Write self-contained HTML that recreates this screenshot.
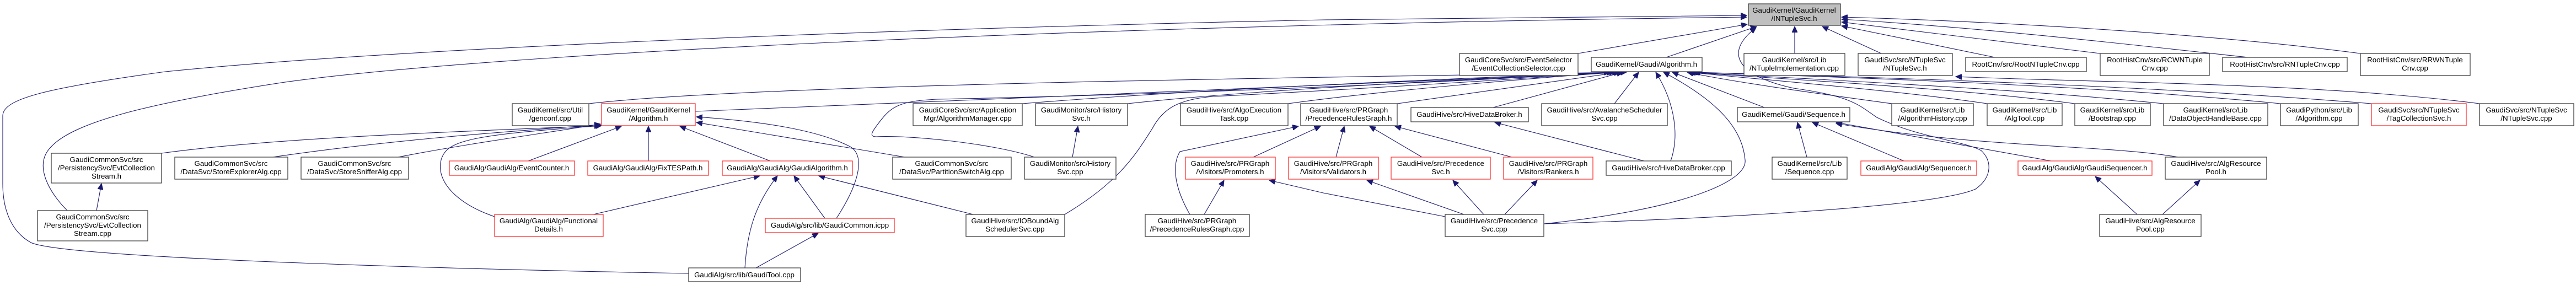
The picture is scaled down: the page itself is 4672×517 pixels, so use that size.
<!DOCTYPE html>
<html><head><meta charset="utf-8"><style>
html,body{margin:0;padding:0;background:#fff;}
svg{display:block;}
text{font-family:"Liberation Sans",Arial,sans-serif;font-size:13.3px;fill:#000;}
.n{fill:#fff;stroke:#404040;stroke-width:1.3;}
.r{fill:#fff;stroke:#ff3333;stroke-width:1.3;}
.g{fill:#bfbfbf;stroke:#404040;stroke-width:1.3;}
.e{fill:none;stroke:#191970;stroke-width:1.1;}
</style></head><body>
<svg width="4672" height="517" viewBox="0 0 4672 517" xmlns="http://www.w3.org/2000/svg">
<defs><marker id="a" markerUnits="userSpaceOnUse" markerWidth="12" markerHeight="10" refX="11" refY="5" orient="auto"><path d="M0,0 L11,5 L0,10 z" fill="#191970" stroke="#191970"/></marker></defs>
<g class="e" marker-end="url(#a)">
<!-- into INTupleSvc -->
<path d="M1249,496 C900,490 120,470 56,440 C20,420 5,380 5,333 L5,210 C5,180 80,160 300,130 C700,90 1500,55 2400,36 L3168,28"/>
<path d="M122,382 C90,350 60,300 92,267 C130,225 250,190 510,150 C900,95 2000,45 3168,31"/>
<path d="M2862,97 L3169,44"/>
<path d="M3022,104 L3186,48"/>
<path d="M3255,97 L3255,48"/>
<path d="M3412,97 L3305,48"/>
<path d="M3618,104 L3340,47"/>
<path d="M3809,97 L3340,40"/>
<path d="M4077,104 C3900,85 3600,50 3340,35"/>
<path d="M4281,97 C4000,60 3600,38 3340,31"/>
<path d="M2800,406 C3000,400 3500,380 3583,343 C3615,320 3612,290 3593,273 C3560,255 3480,250 3404,213 C3370,190 3360,175 3253,160 C3160,140 3120,100 3185,50"/>
<!-- into Gaudi/Algorithm.h -->
<path d="M1261,202 C1800,178 2600,150 2950,131"/>
<path d="M1068,188 C1400,150 2500,140 2940,131"/>
<path d="M1854,188 C2200,160 2700,140 2925,131"/>
<path d="M2045,188 C2300,160 2750,140 2930,131"/>
<path d="M2336,188 C2500,165 2800,140 2935,131"/>
<path d="M2534,188 L2938,131"/>
<path d="M1931,389 C2030,330 2060,280 2090,233 C2110,195 2140,180 2200,175 C2500,160 2800,140 2925,131"/>
<path d="M1876,285 C1800,260 1650,245 1590,248 C1575,248 1580,240 1600,215 C1620,190 1640,183 1700,180 C2200,170 2700,145 2920,131"/>
<path d="M2708,195 L2943,131"/>
<path d="M2928,188 L2972,131"/>
<path d="M3030,292 C3045,250 3040,190 3003,131"/>
<path d="M2800,406 C3050,380 3170,330 3165,290 C3160,230 3110,180 3017,131"/>
<path d="M3200,195 L3033,131"/>
<path d="M3431,188 C3300,170 3150,150 3060,131"/>
<path d="M3604,188 C3450,165 3200,145 3063,131"/>
<path d="M3763,188 C3550,160 3250,145 3065,131"/>
<path d="M3924,188 C3650,160 3300,145 3068,131"/>
<path d="M4136,188 C3800,155 3350,140 3070,131"/>
<path d="M4301,188 C3900,155 3400,140 3072,131"/>
<path d="M4497,188 C4200,150 3800,150 3547,139"/>
<!-- into GaudiKernel/Algorithm.h -->
<path d="M293,278 C500,250 800,240 1089,228"/>
<path d="M495,285 C700,255 900,240 1089,226"/>
<path d="M722,285 C850,260 1000,240 1089,225"/>
<path d="M897,393 C830,370 790,330 800,290 C810,255 850,245 1091,228"/>
<path d="M958,292 L1127,229"/>
<path d="M1176,292 L1176,229"/>
<path d="M1397,292 L1233,229"/>
<path d="M1517,396 C1560,330 1570,280 1540,265 C1480,235 1380,220 1263,212"/>
<path d="M1641,285 L1263,222"/>
<!-- into GaudiAlgorithm.h -->
<path d="M1076,389 L1378,319"/>
<path d="M1351,486 C1355,420 1370,370 1410,319"/>
<path d="M1496,396 L1440,319"/>
<path d="M1765,389 L1485,319"/>
<path d="M1371,486 L1484,423"/>
<path d="M1945,285 L1955,229"/>
<path d="M175,382 L184,333"/>
<!-- PrecedenceRulesGraph.h -->
<path d="M2158,389 C2130,340 2125,300 2140,275 L2355,229"/>
<path d="M2273,285 L2395,229"/>
<path d="M2423,285 L2438,229"/>
<path d="M2579,285 L2484,229"/>
<path d="M2742,285 L2530,229"/>
<path d="M2184,389 L2220,327"/>
<path d="M2621,393 L2400,350 L2302,327"/>
<path d="M2655,389 L2479,327"/>
<path d="M2691,389 L2635,327"/>
<path d="M2729,389 L2788,327"/>
<path d="M2982,292 L2711,222"/>
<!-- Sequence.h etc -->
<path d="M3277,285 L3260,222"/>
<path d="M3453,292 L3287,222"/>
<path d="M3720,292 L3330,222"/>
<path d="M3950,285 C3820,262 3600,270 3330,224"/>
<path d="M3876,389 L3800,320"/>
<path d="M3922,389 L3990,327"/>
</g>
<g>
<rect class="g" x="3171" y="7" width="167" height="39"/><text x="3254" y="23" text-anchor="middle">GaudiKernel/GaudiKernel</text><text x="3254" y="38" text-anchor="middle">/INTupleSvc.h</text>
<rect class="n" x="2647" y="97" width="215" height="40"/><text x="2754" y="113" text-anchor="middle">GaudiCoreSvc/src/EventSelector</text><text x="2754" y="128" text-anchor="middle">/EventCollectionSelector.cpp</text>
<rect class="n" x="2886" y="104" width="201" height="26"/><text x="2986" y="121" text-anchor="middle">GaudiKernel/Gaudi/Algorithm.h</text>
<rect class="n" x="3163" y="97" width="183" height="40"/><text x="3254" y="113" text-anchor="middle">GaudiKernel/src/Lib</text><text x="3254" y="128" text-anchor="middle">/NTupleImplementation.cpp</text>
<rect class="n" x="3370" y="97" width="171" height="40"/><text x="3455" y="113" text-anchor="middle">GaudiSvc/src/NTupleSvc</text><text x="3455" y="128" text-anchor="middle">/NTupleSvc.h</text>
<rect class="n" x="3565" y="104" width="219" height="26"/><text x="3674" y="121" text-anchor="middle">RootCnv/src/RootNTupleCnv.cpp</text>
<rect class="n" x="3809" y="97" width="198" height="40"/><text x="3908" y="113" text-anchor="middle">RootHistCnv/src/RCWNTuple</text><text x="3908" y="128" text-anchor="middle">Cnv.cpp</text>
<rect class="n" x="4031" y="104" width="226" height="26"/><text x="4144" y="121" text-anchor="middle">RootHistCnv/src/RNTupleCnv.cpp</text>
<rect class="n" x="4281" y="97" width="199" height="40"/><text x="4380" y="113" text-anchor="middle">RootHistCnv/src/RRWNTuple</text><text x="4380" y="128" text-anchor="middle">Cnv.cpp</text>

<rect class="n" x="929" y="188" width="139" height="40"/><text x="998" y="204" text-anchor="middle">GaudiKernel/src/Util</text><text x="998" y="219" text-anchor="middle">/genconf.cpp</text>
<rect class="r" x="1091" y="188" width="170" height="40"/><text x="1176" y="204" text-anchor="middle">GaudiKernel/GaudiKernel</text><text x="1176" y="219" text-anchor="middle">/Algorithm.h</text>
<rect class="n" x="1656" y="188" width="198" height="40"/><text x="1755" y="204" text-anchor="middle">GaudiCoreSvc/src/Application</text><text x="1755" y="219" text-anchor="middle">Mgr/AlgorithmManager.cpp</text>
<rect class="n" x="1878" y="188" width="167" height="40"/><text x="1961" y="204" text-anchor="middle">GaudiMonitor/src/History</text><text x="1961" y="219" text-anchor="middle">Svc.h</text>
<rect class="n" x="2141" y="188" width="195" height="40"/><text x="2238" y="204" text-anchor="middle">GaudiHive/src/AlgoExecution</text><text x="2238" y="219" text-anchor="middle">Task.cpp</text>
<rect class="n" x="2359" y="188" width="175" height="40"/><text x="2446" y="204" text-anchor="middle">GaudiHive/src/PRGraph</text><text x="2446" y="219" text-anchor="middle">/PrecedenceRulesGraph.h</text>
<rect class="n" x="2559" y="195" width="213" height="26"/><text x="2665" y="212" text-anchor="middle">GaudiHive/src/HiveDataBroker.h</text>
<rect class="n" x="2796" y="188" width="228" height="40"/><text x="2910" y="204" text-anchor="middle">GaudiHive/src/AvalancheScheduler</text><text x="2910" y="219" text-anchor="middle">Svc.cpp</text>
<rect class="n" x="3151" y="195" width="204" height="26"/><text x="3253" y="212" text-anchor="middle">GaudiKernel/Gaudi/Sequence.h</text>
<rect class="n" x="3431" y="188" width="148" height="40"/><text x="3505" y="204" text-anchor="middle">GaudiKernel/src/Lib</text><text x="3505" y="219" text-anchor="middle">/AlgorithmHistory.cpp</text>
<rect class="n" x="3604" y="188" width="136" height="40"/><text x="3672" y="204" text-anchor="middle">GaudiKernel/src/Lib</text><text x="3672" y="219" text-anchor="middle">/AlgTool.cpp</text>
<rect class="n" x="3763" y="188" width="137" height="40"/><text x="3831" y="204" text-anchor="middle">GaudiKernel/src/Lib</text><text x="3831" y="219" text-anchor="middle">/Bootstrap.cpp</text>
<rect class="n" x="3924" y="188" width="189" height="40"/><text x="4018" y="204" text-anchor="middle">GaudiKernel/src/Lib</text><text x="4018" y="219" text-anchor="middle">/DataObjectHandleBase.cpp</text>
<rect class="n" x="4136" y="188" width="141" height="40"/><text x="4206" y="204" text-anchor="middle">GaudiPython/src/Lib</text><text x="4206" y="219" text-anchor="middle">/Algorithm.cpp</text>
<rect class="r" x="4301" y="188" width="172" height="40"/><text x="4387" y="204" text-anchor="middle">GaudiSvc/src/NTupleSvc</text><text x="4387" y="219" text-anchor="middle">/TagCollectionSvc.h</text>
<rect class="n" x="4497" y="188" width="171" height="40"/><text x="4582" y="204" text-anchor="middle">GaudiSvc/src/NTupleSvc</text><text x="4582" y="219" text-anchor="middle">/NTupleSvc.cpp</text>

<rect class="n" x="93" y="278" width="200" height="54"/><text x="193" y="294" text-anchor="middle">GaudiCommonSvc/src</text><text x="193" y="309" text-anchor="middle">/PersistencySvc/EvtCollection</text><text x="193" y="324" text-anchor="middle">Stream.h</text>
<rect class="n" x="317" y="285" width="205" height="40"/><text x="419" y="301" text-anchor="middle">GaudiCommonSvc/src</text><text x="419" y="316" text-anchor="middle">/DataSvc/StoreExplorerAlg.cpp</text>
<rect class="n" x="546" y="285" width="195" height="40"/><text x="643" y="301" text-anchor="middle">GaudiCommonSvc/src</text><text x="643" y="316" text-anchor="middle">/DataSvc/StoreSnifferAlg.cpp</text>
<rect class="r" x="815" y="292" width="227" height="26"/><text x="928" y="309" text-anchor="middle">GaudiAlg/GaudiAlg/EventCounter.h</text>
<rect class="r" x="1066" y="292" width="219" height="26"/><text x="1175" y="309" text-anchor="middle">GaudiAlg/GaudiAlg/FixTESPath.h</text>
<rect class="r" x="1310" y="292" width="236" height="26"/><text x="1428" y="309" text-anchor="middle">GaudiAlg/GaudiAlg/GaudiAlgorithm.h</text>
<rect class="n" x="1619" y="285" width="215" height="40"/><text x="1726" y="301" text-anchor="middle">GaudiCommonSvc/src</text><text x="1726" y="316" text-anchor="middle">/DataSvc/PartitionSwitchAlg.cpp</text>
<rect class="n" x="1858" y="285" width="166" height="40"/><text x="1941" y="301" text-anchor="middle">GaudiMonitor/src/History</text><text x="1941" y="316" text-anchor="middle">Svc.cpp</text>
<rect class="r" x="2150" y="285" width="163" height="40"/><text x="2231" y="301" text-anchor="middle">GaudiHive/src/PRGraph</text><text x="2231" y="316" text-anchor="middle">/Visitors/Promoters.h</text>
<rect class="r" x="2337" y="285" width="163" height="40"/><text x="2418" y="301" text-anchor="middle">GaudiHive/src/PRGraph</text><text x="2418" y="316" text-anchor="middle">/Visitors/Validators.h</text>
<rect class="r" x="2523" y="285" width="180" height="40"/><text x="2613" y="301" text-anchor="middle">GaudiHive/src/Precedence</text><text x="2613" y="316" text-anchor="middle">Svc.h</text>
<rect class="r" x="2727" y="285" width="162" height="40"/><text x="2808" y="301" text-anchor="middle">GaudiHive/src/PRGraph</text><text x="2808" y="316" text-anchor="middle">/Visitors/Rankers.h</text>
<rect class="n" x="2913" y="292" width="227" height="26"/><text x="3026" y="309" text-anchor="middle">GaudiHive/src/HiveDataBroker.cpp</text>
<rect class="n" x="3214" y="285" width="136" height="40"/><text x="3282" y="301" text-anchor="middle">GaudiKernel/src/Lib</text><text x="3282" y="316" text-anchor="middle">/Sequence.cpp</text>
<rect class="r" x="3375" y="292" width="210" height="26"/><text x="3480" y="309" text-anchor="middle">GaudiAlg/GaudiAlg/Sequencer.h</text>
<rect class="r" x="3660" y="292" width="243" height="26"/><text x="3781" y="309" text-anchor="middle">GaudiAlg/GaudiAlg/GaudiSequencer.h</text>
<rect class="n" x="3927" y="285" width="184" height="40"/><text x="4019" y="301" text-anchor="middle">GaudiHive/src/AlgResource</text><text x="4019" y="316" text-anchor="middle">Pool.h</text>

<rect class="n" x="68" y="382" width="200" height="55"/><text x="168" y="398" text-anchor="middle">GaudiCommonSvc/src</text><text x="168" y="413" text-anchor="middle">/PersistencySvc/EvtCollection</text><text x="168" y="428" text-anchor="middle">Stream.cpp</text>
<rect class="r" x="897" y="389" width="197" height="40"/><text x="995" y="405" text-anchor="middle">GaudiAlg/GaudiAlg/Functional</text><text x="995" y="420" text-anchor="middle">Details.h</text>
<rect class="r" x="1388" y="396" width="234" height="26"/><text x="1505" y="413" text-anchor="middle">GaudiAlg/src/lib/GaudiCommon.icpp</text>
<rect class="n" x="1752" y="389" width="179" height="40"/><text x="1841" y="405" text-anchor="middle">GaudiHive/src/IOBoundAlg</text><text x="1841" y="420" text-anchor="middle">SchedulerSvc.cpp</text>
<rect class="n" x="2077" y="389" width="189" height="40"/><text x="2171" y="405" text-anchor="middle">GaudiHive/src/PRGraph</text><text x="2171" y="420" text-anchor="middle">/PrecedenceRulesGraph.cpp</text>
<rect class="n" x="2621" y="389" width="179" height="40"/><text x="2710" y="405" text-anchor="middle">GaudiHive/src/Precedence</text><text x="2710" y="420" text-anchor="middle">Svc.cpp</text>
<rect class="n" x="3808" y="389" width="184" height="40"/><text x="3900" y="405" text-anchor="middle">GaudiHive/src/AlgResource</text><text x="3900" y="420" text-anchor="middle">Pool.cpp</text>
<rect class="n" x="1249" y="486" width="203" height="25"/><text x="1350" y="503" text-anchor="middle">GaudiAlg/src/lib/GaudiTool.cpp</text>
</g>
</svg>
</body></html>
